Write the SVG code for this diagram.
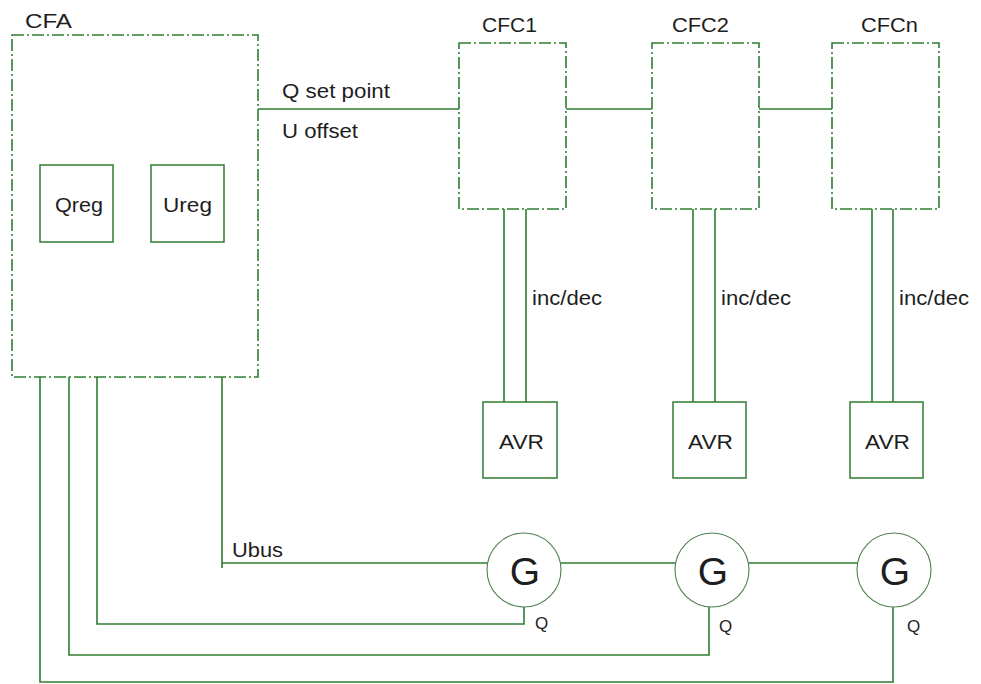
<svg xmlns="http://www.w3.org/2000/svg" width="981" height="684" viewBox="0 0 981 684">
<style>
.dd{fill:none;stroke:#2f7d32;stroke-width:1.6;stroke-dasharray:12 3 2 3}
.bx{fill:none;stroke:#2f7d32;stroke-width:1.5}
.ln{fill:none;stroke:#2f7d32;stroke-width:1.6}
.gc{fill:#fff;stroke:#4f7f4f;stroke-width:1.1}
text{font-family:"Liberation Sans",Arial,sans-serif;fill:#1e1e1e}
.t{font-size:20px}
.s{font-size:17px}
.g{font-size:39px}
.m{text-anchor:middle}
</style>
<rect width="981" height="684" fill="#fff"/>
<g id="connectors">
<path class="ln" d="M258,109H459M566,109H652M759,109H832"/>
<path class="ln" d="M504,209V402M526,209V402M693,209V402M715,209V402M872,209V402M893,209V402"/>
<path class="ln" d="M222,377V568M222,563H487"/>
<path class="ln" d="M561,563H675M749,563H857"/>
<path class="ln" d="M97,377V624H524V607M69,377V655H709V607M40,377V682H893V607"/>
</g>
<g id="CFA">
<rect class="dd" x="12" y="35" width="246" height="342"/>
<text class="t" x="25" y="28" textLength="47" lengthAdjust="spacingAndGlyphs">CFA</text>
</g>
<g id="Qreg">
<rect class="bx" x="40" y="165" width="73" height="77"/>
<text class="t" x="55" y="212" textLength="48" lengthAdjust="spacingAndGlyphs">Qreg</text>
</g>
<g id="Ureg">
<rect class="bx" x="151" y="165" width="73" height="77"/>
<text class="t" x="163" y="212" textLength="49" lengthAdjust="spacingAndGlyphs">Ureg</text>
</g>
<g id="labels">
<text class="t" x="282" y="98" textLength="108" lengthAdjust="spacingAndGlyphs">Q set point</text>
<text class="t" x="282" y="138" textLength="76" lengthAdjust="spacingAndGlyphs">U offset</text>
<text class="t" x="532" y="305" textLength="70" lengthAdjust="spacingAndGlyphs">inc/dec</text>
<text class="t" x="721" y="305" textLength="70" lengthAdjust="spacingAndGlyphs">inc/dec</text>
<text class="t" x="899" y="305" textLength="70" lengthAdjust="spacingAndGlyphs">inc/dec</text>
<text class="t" x="232" y="557" textLength="51" lengthAdjust="spacingAndGlyphs">Ubus</text>
</g>
<g id="CFC1">
<rect class="dd" x="459" y="43" width="107" height="166"/>
<text class="t" x="482" y="32" textLength="55" lengthAdjust="spacingAndGlyphs">CFC1</text>
</g>
<g id="CFC2">
<rect class="dd" x="652" y="43" width="107" height="166"/>
<text class="t" x="672" y="32" textLength="57" lengthAdjust="spacingAndGlyphs">CFC2</text>
</g>
<g id="CFCn">
<rect class="dd" x="832" y="43" width="107" height="166"/>
<text class="t" x="861" y="32" textLength="57" lengthAdjust="spacingAndGlyphs">CFCn</text>
</g>
<g id="AVR1">
<rect class="bx" x="483" y="402" width="74" height="76"/>
<text class="t" x="499" y="449" textLength="45" lengthAdjust="spacingAndGlyphs">AVR</text>
</g>
<g id="AVR2">
<rect class="bx" x="673" y="402" width="73" height="76"/>
<text class="t" x="688" y="449" textLength="45" lengthAdjust="spacingAndGlyphs">AVR</text>
</g>
<g id="AVR3">
<rect class="bx" x="850" y="402" width="73" height="76"/>
<text class="t" x="865" y="449" textLength="45" lengthAdjust="spacingAndGlyphs">AVR</text>
</g>
<g id="G1">
<circle class="gc" cx="524" cy="570" r="37"/>
<text class="g m" x="525" y="585">G</text>
<text class="s" x="535" y="629">Q</text>
</g>
<g id="G2">
<circle class="gc" cx="712" cy="570" r="37"/>
<text class="g m" x="713" y="585">G</text>
<text class="s" x="719" y="632">Q</text>
</g>
<g id="G3">
<circle class="gc" cx="894" cy="570" r="37"/>
<text class="g m" x="895" y="585">G</text>
<text class="s" x="907" y="632">Q</text>
</g>
</svg>
